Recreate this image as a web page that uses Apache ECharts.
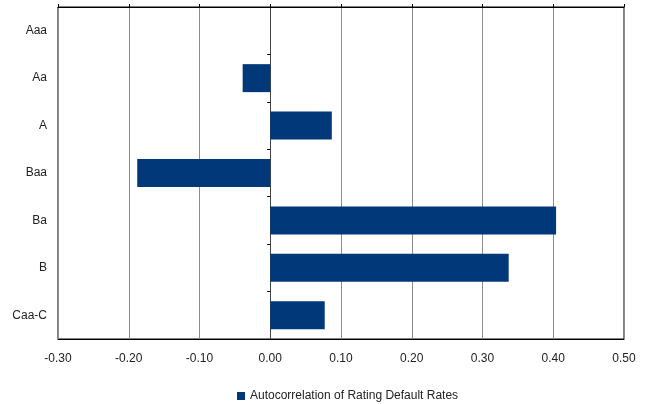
<!DOCTYPE html>
<html lang="en">
<head>
  <meta charset="UTF-8" />
  <title>Autocorrelation of Rating Default Rates</title>
  <script src="https://cdn.jsdelivr.net/npm/echarts@6/dist/echarts.min.js"></script>
  <style>
    body { margin: 0; background: #fff; }
    #chart { width: 652px; height: 404px; }
  </style>
</head>
<body>
  <div id="chart"></div>
  <script>
    // data
    const ratings = ['Aaa', 'Aa', 'A', 'Baa', 'Ba', 'B', 'Caa-C'];
    const autocorr = [0, -0.039, 0.087, -0.188, 0.404, 0.337, 0.077];
    const seriesName = 'Autocorrelation of Rating Default Rates';

    const font = '"Liberation Sans Narrow", "Arial Narrow", "Liberation Sans", sans-serif';
    const chart = echarts.init(document.getElementById('chart'));

    chart.setOption({
      animation: false,
      backgroundColor: '#fff',
      textStyle: { fontFamily: font },
      grid: {
        left: 58, right: 28, top: 7, bottom: 65,
        show: true, borderColor: '#000', borderWidth: 1
      },
      legend: {
        top: 390,
        left: 237,
        padding: 0,
        icon: 'rect',
        itemWidth: 8, itemHeight: 8,
        itemGap: 4,
        textStyle: { fontFamily: font, fontSize: 12, color: '#222' },
        data: [seriesName]
      },
      xAxis: [{
        type: 'value',
        position: 'bottom',
        min: -0.3, max: 0.5, interval: 0.1,
        axisLine: { show: true, onZero: false, lineStyle: { color: '#000' } },
        axisTick: { show: false },
        axisLabel: {
          margin: 14, fontSize: 12, color: '#222', fontFamily: font,
          formatter: v => v.toFixed(2)
        },
        splitLine: { show: true, lineStyle: { color: '#8c8c8c', width: 1 } }
      }, {
        type: 'value',
        position: 'top',
        min: -0.3, max: 0.5, interval: 0.1,
        axisLine: { show: true, onZero: false, lineStyle: { color: '#000' } },
        axisTick: { show: true, length: 3, lineStyle: { color: '#000' } },
        axisLabel: { show: false },
        splitLine: { show: false }
      }],
      yAxis: [{
        type: 'category',
        inverse: true,
        data: ratings,
        position: 'left',
        axisLine: { show: false },
        axisTick: { show: false },
        axisLabel: { margin: 11, fontSize: 12, color: '#222', fontFamily: font }
      }, {
        type: 'category',
        inverse: true,
        data: ratings,
        position: 'left',
        axisLine: { show: true, onZero: true, lineStyle: { color: '#444' } },
        axisTick: { show: true, length: 3, lineStyle: { color: '#000' } },
        axisLabel: { show: false }
      }],
      series: [{
        name: seriesName,
        type: 'bar',
        xAxisIndex: 0,
        yAxisIndex: 0,
        data: autocorr,
        barCategoryGap: '41%',
        itemStyle: { color: '#00387a' }
      }]
    });
  </script>
</body>
</html>
